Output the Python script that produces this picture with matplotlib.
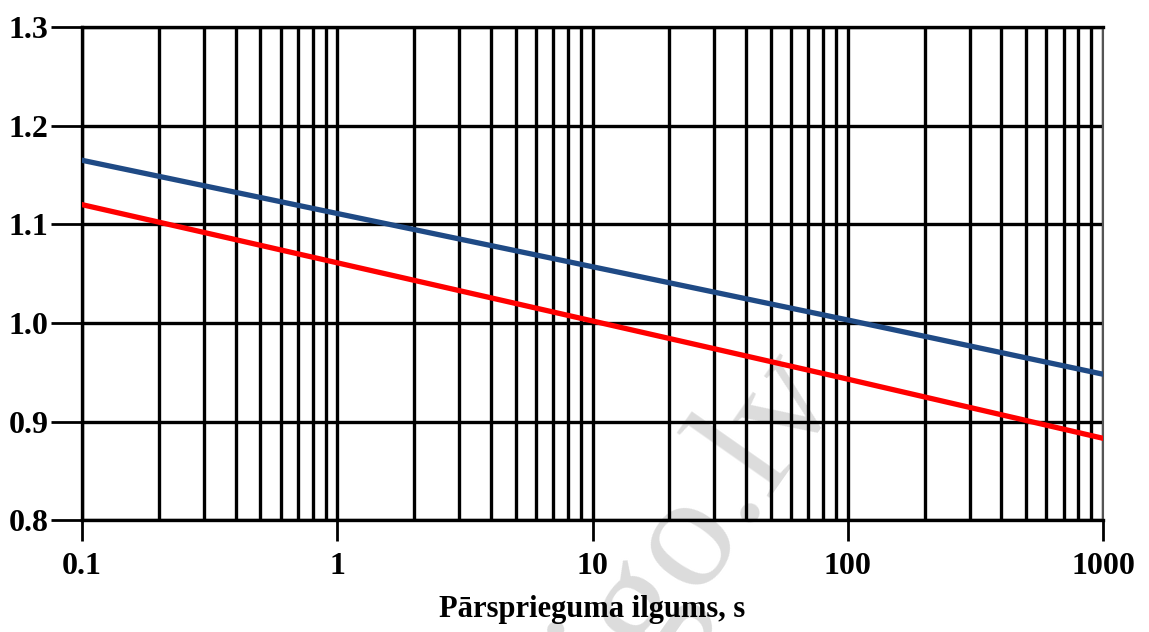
import matplotlib.pyplot as plt
from matplotlib.ticker import LogLocator, NullFormatter

# pārsprieguma ilgums (s) un koeficients
t = [0.1, 1, 10, 100, 1000]
zila = [1.165, 1.111, 1.057, 1.003, 0.948]
sarkana = [1.120, 1.061, 1.002, 0.943, 0.883]

x_ticks = [0.1, 1, 10, 100, 1000]
x_labels = ['0.1', '1', '10', '100', '1000']
y_ticks = [0.8, 0.9, 1.0, 1.1, 1.2, 1.3]

plt.rcParams['font.family'] = ['Liberation Serif', 'DejaVu Serif']
plt.rcParams['font.weight'] = 'bold'

fig = plt.figure(figsize=(11.49, 6.32), dpi=100)
ax = fig.add_axes([0.0714, 0.177, 0.8886, 0.78])

ax.set_xscale('log')
ax.set_xlim(0.1, 1000)
ax.set_ylim(0.8, 1.3)

# vertikālās līnijas katrā starpiedaļā
ax.xaxis.set_minor_locator(LogLocator(base=10, subs=range(2, 10)))
ax.xaxis.set_minor_formatter(NullFormatter())
ax.grid(True, which='both', axis='x', color='black', lw=2.4)
ax.grid(True, which='major', axis='y', color='black', lw=2.4)

ax.plot(t, zila, color='#1f4a85', lw=3.8, zorder=3)
ax.plot(t, sarkana, color='#ff0000', lw=3.8, zorder=3)

ax.set_xticks(x_ticks)
ax.set_xticklabels(x_labels)
ax.set_yticks(y_ticks)
ax.set_yticklabels(['%.1f' % v for v in y_ticks])
ax.tick_params(axis='x', which='major', length=15, width=2, direction='out',
               labelsize=23, pad=8)
ax.tick_params(axis='x', which='minor', length=0)
ax.tick_params(axis='y', length=22, width=2, labelsize=23, pad=2)

for s in ['left', 'top', 'bottom']:
    ax.spines[s].set_linewidth(2.4)
ax.spines['right'].set_linewidth(1.5)
ax.spines['right'].set_color('#555555')

ax.set_xlabel('Pārsprieguma ilgums, s', fontsize=22, fontweight='bold', labelpad=10)

# ūdenszīme aiz līnijām
ax.text(0.605, -0.01, 'igo.lv', transform=ax.transAxes, fontsize=118,
        color='#dcdcdc', rotation=55, ha='center', va='center', zorder=0,
        clip_on=False, family='Liberation Serif', fontweight='normal')

fig.savefig('out.png', dpi=100)
